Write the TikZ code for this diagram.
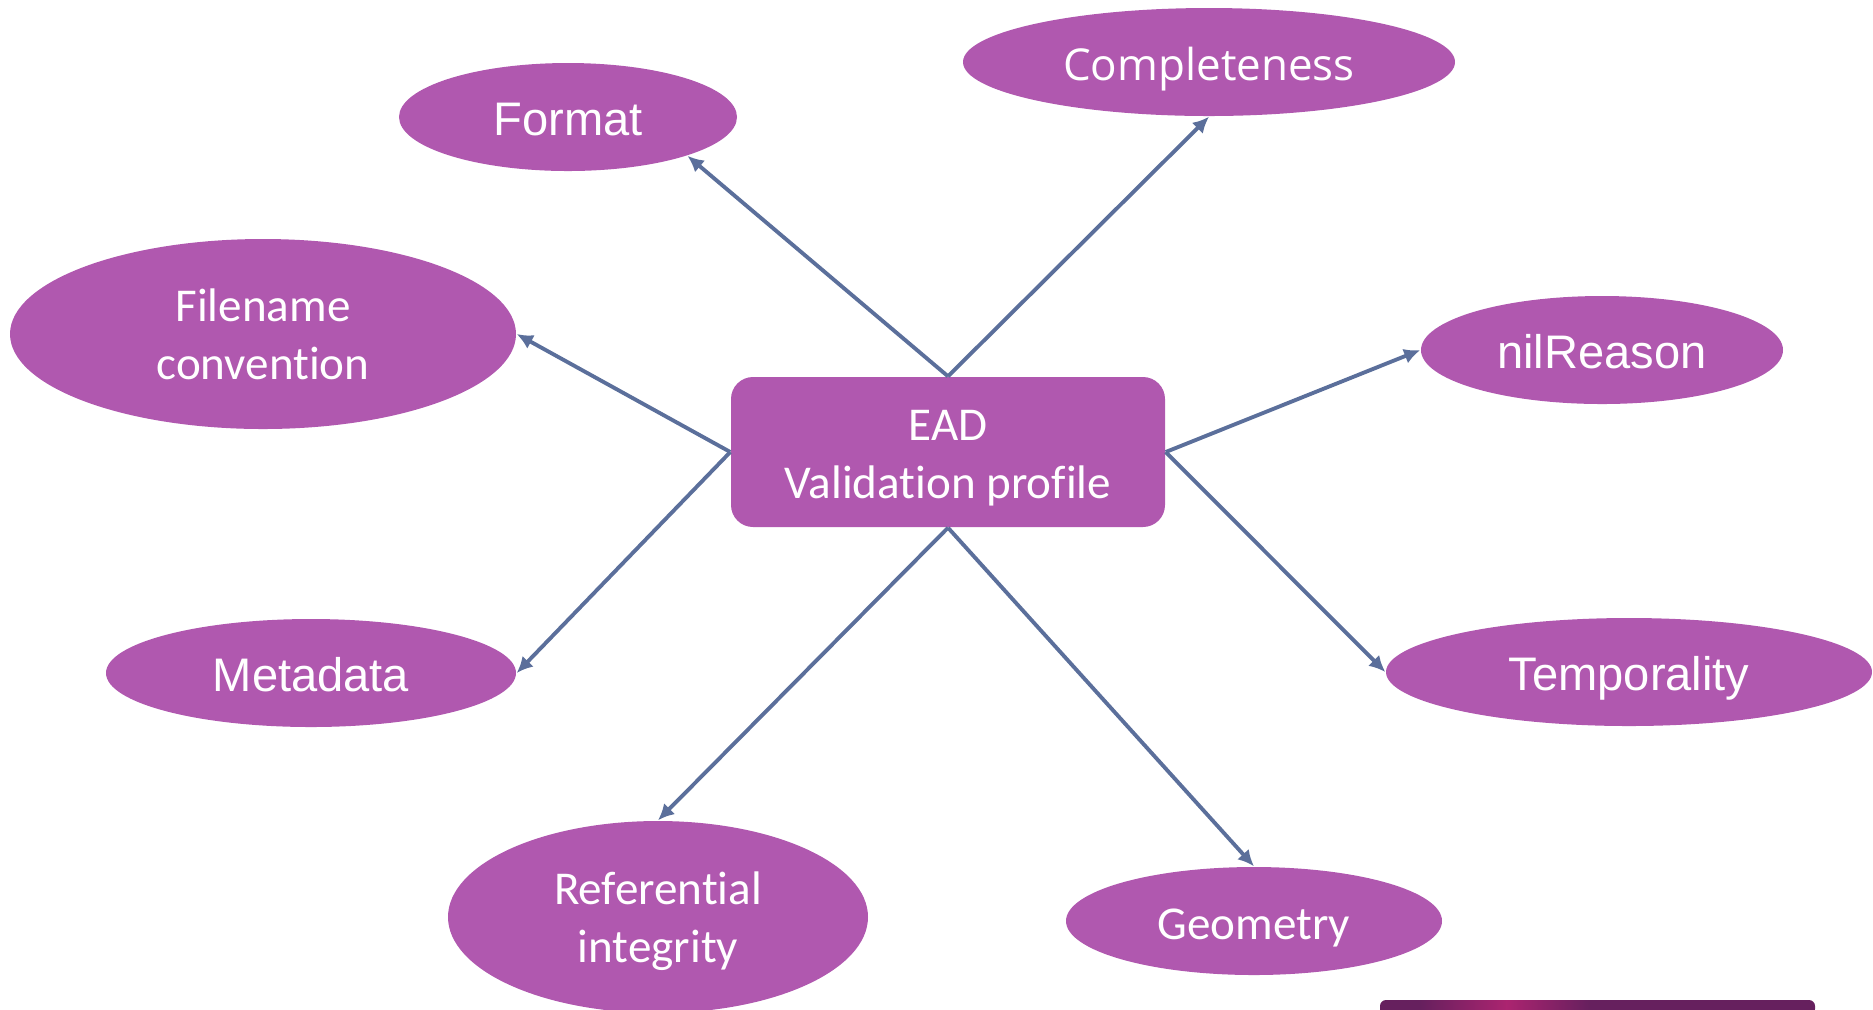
\documentclass[tikz,border=0pt]{standalone}
\usepackage{fontspec}
\setmainfont{Carlito}[Ligatures=NoCommon]
\newfontfamily\arialfont{Liberation Sans}
\newfontfamily\opensansfont{Open Sans}
\usepackage{xcolor}
\usepackage{tikz}
\usetikzlibrary{
	arrows.meta,
	shapes.geometric
}

\definecolor{bubblepurple}{HTML}{B058AF}
\definecolor{linkblue}{HTML}{5B6F9B}
\definecolor{bardark}{HTML}{66205E}
\definecolor{barpink}{HTML}{AC2470}
\newcommand{\bubblesize}{\fontsize{13.4}{16.5}\selectfont}
\newcommand{\firstline}{\rule{0pt}{0.42cm}}

\begin{document}
\begin{tikzpicture}[
		bubble/.style={ellipse, fill=bubblepurple, text=white, inner sep=0pt, align=center, font=\bubblesize},
		oneline/.style={bubble, text height=0.47cm, text depth=0.1cm},
		arialbubble/.style={oneline, font=\arialfont\bubblesize},
		hub/.style={rectangle, rounded corners=0.22cm, fill=bubblepurple, text=white, align=center,
			minimum width=4.34cm, minimum height=1.5cm, font=\bubblesize},
		link/.style={-{Latex[length=4.6pt,width=4.4pt]}, linkblue, line width=1.1pt}
	]
		\useasboundingbox (0,0) rectangle (18.73,-10.09);
		% 中心
		\node[hub] (ead) at (9.48,-4.52) {\firstline EAD\\Validation profile};
		% 周围
		\node[arialbubble, minimum width=3.38cm, minimum height=1.08cm] (format) at (5.68,-1.17) {Format};
		\node[oneline, minimum width=4.92cm, minimum height=1.08cm, font=\opensansfont\fontsize{12.5}{15}\selectfont] (completeness) at (12.09,-0.62) {Completeness};
		\node[bubble, minimum width=5.06cm, minimum height=1.90cm] (filename) at (2.63,-3.34) {Filename\\convention};
		\node[arialbubble, minimum width=3.62cm, minimum height=1.08cm] (nilreason) at (16.02,-3.50) {nilReason};
		\node[arialbubble, minimum width=4.10cm, minimum height=1.08cm] (metadata) at (3.11,-6.73) {Metadata};
		\node[arialbubble, minimum width=4.86cm, minimum height=1.08cm] (temporality) at (16.29,-6.72) {Temporality};
		\node[bubble, minimum width=4.20cm, minimum height=1.92cm] (referential) at (6.58,-9.17) {\firstline Referential\\integrity};
		\node[oneline, minimum width=3.76cm, minimum height=1.08cm] (geometry) at (12.54,-9.21) {Geometry};
		% 箭头
		\draw[link] (ead.north) -- (format.-18);
		\draw[link] (ead.north) -- (completeness.south);
		\draw[link] (ead.west) -- (filename.east);
		\draw[link] (ead.west) -- (metadata.east);
		\draw[link] (ead.east) -- (nilreason.west);
		\draw[link] (ead.east) -- (temporality.west);
		\draw[link] (ead.south) -- (referential.north);
		\draw[link] (ead.south) -- (geometry.north);
		% 底部色条
		\fill[bardark, rounded corners=0.06cm] (13.80,-10.15) -- (13.80,-10.00) -- (18.15,-10.00) -- (18.15,-10.15) -- cycle;
		\shade[left color=bardark, right color=barpink] (14.20,-10.15) rectangle (15.08,-10.00);
		\shade[left color=barpink, right color=bardark] (15.06,-10.15) rectangle (15.90,-10.00);
	\end{tikzpicture}
\end{document}
